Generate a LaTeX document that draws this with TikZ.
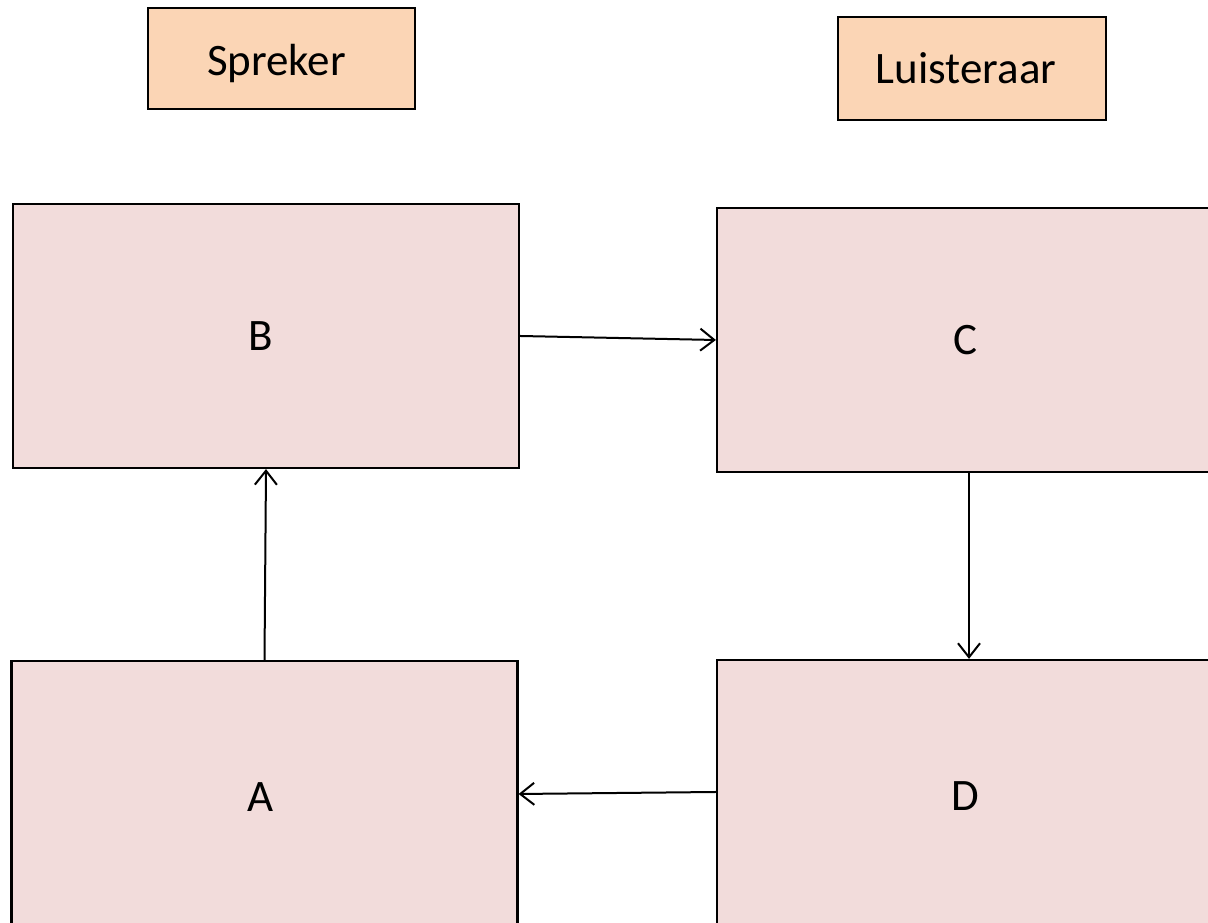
\documentclass[tikz,border=0pt]{standalone}
\usepackage{fontspec}
\setmainfont{Carlito}
\usetikzlibrary{arrows.meta}
\definecolor{peach}{HTML}{FBD5B5}
\definecolor{rosy}{HTML}{F2DCDB}
\begin{document}
\begin{tikzpicture}[x=1pt,y=1pt,
  label box/.style={draw=black, line width=2.2pt, fill=peach, rectangle, inner sep=0pt, font=\fontsize{45}{54}\selectfont},
  stage box/.style={draw=black, line width=2.2pt, fill=rosy, rectangle, inner sep=0pt, minimum width=506pt, minimum height=264pt, font=\fontsize{45}{54}\selectfont},
  conn/.style={draw=black, line width=2pt, -{Straight Barb[length=14pt,width=22pt,line width=2pt]}}]
\useasboundingbox (0,0) rectangle (1208,923);
\clip (0,0) rectangle (1208,923);
\fill[white] (0,0) rectangle (1208,923);
\node[label box, minimum width=267pt, minimum height=101pt] (spreker) at (281.5,864.5) {\hspace*{-10pt}\raisebox{-5pt}[\height][\depth]{Spreker}};
\node[label box, minimum width=268pt, minimum height=103pt] (luisteraar) at (972,854.5) {\hspace*{-12pt}Luisteraar};
\node[stage box] (B) at (266,587) {\hspace*{-10pt}B};
\node[stage box, minimum width=530pt] (C) at (982,583) {\hspace*{-34pt}C};
\node[stage box] (A) at (264.5,130) {\hspace*{-8pt}\raisebox{-4pt}[\height][\depth]{A}};
\node[stage box, minimum width=530pt] (D) at (982,131) {\hspace*{-34pt}\raisebox{-4pt}[\height][\depth]{D}};
\draw[conn] (B.east) -- (C.west);
\draw[conn] ([xshift=-13pt]C.south) -- ([xshift=-13pt]D.north);
\draw[conn] (D.west) -- ([yshift=-1pt]A.east);
\draw[conn] (A.north) -- (B.south);
\end{tikzpicture}
\end{document}
